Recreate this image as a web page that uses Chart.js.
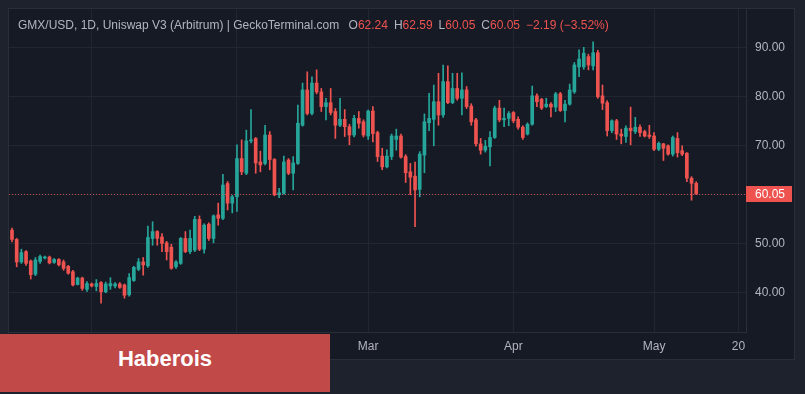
<!DOCTYPE html>
<html>
<head>
<meta charset="utf-8">
<script src="https://cdn.jsdelivr.net/npm/chart.js@4.4.0/dist/chart.umd.min.js"></script>
<style>
  html, body { margin: 0; padding: 0; background: #1e222d; }
  #wrap { position: relative; width: 805px; height: 394px; }
  #title { position: absolute; left: 18px; top: 18px; font: 12px "Liberation Sans", Arial, sans-serif; color: #b2b5be; white-space: pre; }
  #title .g { margin-left: 6px; }
  #title .v { color: #ef5350; }
  #badge { position: absolute; left: 0; top: 334px; width: 330px; height: 58px; box-sizing: border-box; padding-bottom: 9px;
           background: #c14a49; color: #fff; font: bold 22px "Liberation Sans", Arial, sans-serif;
           display: flex; align-items: center; justify-content: center; }
</style>
</head>
<body>
<div id="wrap">
  <canvas id="grafico" width="805" height="394"></canvas>
  <div id="title"></div>
  <div id="badge">Haberois</div>
</div>
<script>
// velas diarias GMX/USD, desde el 15 de diciembre (indice 0)
const opens = [52.7, 50.8, 46.2, 48.3, 46.4, 43.7, 46.3, 47.0, 47.2, 46.1, 46.7, 46.2, 45.3, 44.2, 41.6, 42.9, 40.6, 41.7, 41.2, 42.0,
  40.1, 41.3, 41.3, 41.7, 41.5, 39.5, 42.4, 44.7, 46.2, 45.4, 51.0, 52.4, 51.3, 50.1, 49.2, 45.2, 45.9, 51.0, 48.3, 48.6,
  54.9, 48.8, 53.9, 51.0, 55.8, 55.1, 62.2, 58.2, 59.5, 67.3, 64.3, 70.9, 71.4, 66.6, 66.3, 72.1, 67.1, 59.9, 60.2, 67.0,
  64.3, 66.3, 74.1, 81.3, 76.5, 82.7, 80.9, 77.9, 78.7, 76.9, 74.1, 75.3, 73.8, 72.1, 75.5, 74.8, 71.9, 77.0, 72.6, 67.8,
  65.6, 67.7, 71.2, 71.9, 67.7, 64.6, 63.7, 61.0, 68.0, 74.6, 75.3, 78.9, 76.2, 83.0, 78.7, 81.6, 79.6, 81.3, 78.0, 75.2,
  70.3, 69.0, 69.7, 71.6, 77.6, 75.2, 75.5, 76.7, 75.3, 73.7, 72.3, 74.3, 80.1, 79.4, 77.9, 78.4, 77.8, 80.5, 77.1, 78.4,
  80.9, 86.0, 86.0, 88.1, 86.2, 88.9, 80.1, 78.7, 73.0, 75.0, 72.3, 71.8, 73.5, 72.8, 73.7, 72.8, 72.1, 71.9, 69.2, 70.3,
  69.9, 68.2, 71.4, 68.9, 68.4, 63.3, 62.24];
const highs = [53.1, 51.0, 48.8, 48.5, 46.6, 47.1, 47.6, 47.4, 47.4, 46.9, 46.9, 46.6, 45.5, 44.5, 43.1, 43.1, 42.2, 41.9, 42.6, 42.2,
  42.1, 43.0, 42.0, 42.0, 41.7, 43.8, 45.3, 46.9, 47.1, 53.5, 54.4, 52.6, 52.0, 50.4, 49.8, 46.5, 51.2, 52.4, 52.7, 55.5,
  55.6, 54.0, 54.2, 55.8, 58.2, 64.1, 62.6, 59.8, 70.1, 71.1, 73.1, 77.3, 71.6, 68.8, 74.1, 72.8, 67.3, 61.2, 67.8, 67.3,
  67.7, 78.2, 82.7, 85.0, 84.0, 85.4, 81.6, 79.6, 81.6, 77.5, 79.6, 77.3, 74.3, 76.1, 76.9, 75.2, 77.2, 77.9, 72.9, 69.4,
  69.1, 72.3, 73.3, 72.3, 68.1, 66.3, 66.6, 68.7, 76.4, 80.6, 82.3, 84.7, 86.4, 86.2, 84.7, 84.7, 84.8, 82.0, 78.5, 75.5,
  71.4, 71.0, 72.8, 78.0, 79.2, 77.6, 76.9, 76.9, 75.8, 74.0, 74.6, 82.1, 80.5, 79.6, 79.6, 78.7, 80.8, 80.8, 79.2, 82.5,
  86.9, 89.5, 90.0, 88.6, 91.1, 89.4, 82.3, 79.1, 75.2, 75.3, 73.3, 74.0, 77.8, 75.7, 74.2, 73.1, 74.1, 72.6, 70.7, 70.4,
  70.1, 71.9, 72.6, 69.9, 68.5, 63.6, 62.59];
const lows = [50.3, 45.2, 45.9, 45.5, 42.7, 43.4, 45.9, 46.8, 45.8, 45.9, 45.4, 44.5, 43.7, 41.3, 41.5, 40.4, 40.2, 41.1, 40.3, 37.8,
  39.9, 40.6, 40.9, 40.8, 38.8, 39.2, 42.2, 44.4, 43.5, 45.1, 49.6, 49.6, 48.3, 46.6, 44.7, 44.9, 45.7, 48.1, 47.9, 48.3,
  48.5, 48.0, 50.6, 50.1, 53.7, 54.8, 56.8, 56.2, 56.5, 64.0, 64.0, 70.5, 64.3, 64.6, 66.0, 65.0, 59.7, 59.3, 60.0, 64.0,
  60.9, 66.1, 73.9, 76.2, 76.2, 80.5, 76.9, 75.2, 76.2, 71.4, 73.8, 71.8, 70.1, 71.7, 73.5, 71.7, 71.2, 70.7, 66.7, 65.0,
  65.4, 67.1, 69.0, 67.4, 62.4, 59.9, 53.4, 59.5, 64.4, 73.0, 69.9, 74.1, 75.7, 78.5, 78.5, 79.2, 76.2, 77.5, 74.1, 69.8,
  68.2, 68.6, 65.8, 71.4, 74.8, 73.8, 74.0, 74.6, 73.3, 71.2, 72.1, 74.1, 77.9, 77.3, 77.7, 75.8, 76.9, 76.9, 74.8, 78.2,
  80.6, 84.0, 85.5, 85.4, 85.4, 79.6, 77.3, 71.9, 72.6, 71.2, 70.3, 70.6, 70.1, 72.4, 71.8, 71.7, 71.4, 68.9, 68.9, 66.9,
  68.0, 67.8, 67.6, 67.9, 62.6, 58.8, 60.05];
const closes = [50.8, 46.2, 48.1, 45.9, 43.6, 46.6, 47.3, 47.2, 46.0, 46.7, 45.6, 44.9, 43.9, 41.5, 42.9, 40.8, 41.8, 41.3, 41.8, 40.1,
  41.7, 41.8, 41.7, 41.0, 39.4, 43.0, 45.1, 46.2, 45.6, 51.2, 52.4, 51.0, 50.0, 48.3, 44.9, 46.2, 51.0, 48.3, 51.0, 54.9,
  48.8, 53.7, 51.0, 55.6, 55.1, 61.9, 58.2, 59.5, 67.3, 64.6, 70.9, 71.1, 66.4, 66.0, 72.1, 67.1, 59.9, 60.3, 66.6, 64.3,
  66.4, 74.5, 81.3, 76.5, 82.7, 80.9, 77.9, 78.7, 76.7, 74.1, 75.3, 73.8, 72.1, 75.5, 74.5, 72.1, 77.0, 72.4, 67.7, 65.6,
  67.8, 71.9, 71.9, 67.6, 64.4, 63.5, 60.9, 68.2, 74.8, 75.5, 78.9, 76.2, 83.0, 78.7, 81.6, 79.6, 81.3, 77.9, 74.8, 70.3,
  69.0, 69.8, 71.6, 77.6, 75.2, 75.5, 76.5, 75.0, 73.7, 71.6, 74.3, 80.1, 78.9, 77.6, 78.4, 77.8, 80.5, 77.1, 78.4, 81.3,
  86.4, 87.6, 88.8, 86.4, 88.9, 79.9, 78.6, 73.0, 75.0, 72.3, 71.9, 73.5, 73.0, 73.7, 72.6, 71.9, 71.8, 69.2, 70.4, 69.4,
  68.2, 71.6, 68.5, 68.2, 63.3, 62.24, 60.05];

// marcas del eje de tiempo (indice de dia) y del eje de precio
const tickIndex = [17, 48, 76, 107, 137, 155];
const tickLabels = ['2023', 'Feb', 'Mar', 'Apr', 'May', '20'];
const yTicks = [40, 50, 60, 70, 80, 90];

const UP = '#26a69a';
const DOWN = '#ef5350';
const colores = closes.map((c, i) => c >= opens[i] ? UP : DOWN);
const last = closes.length - 1;

// cabecera con los valores de la ultima vela
const cambio = closes[last] - closes[last - 1];
const pct = cambio / closes[last - 1] * 100;
const fmt = n => (n < 0 ? '\u2212' : '') + Math.abs(n).toFixed(2);
document.getElementById('title').innerHTML =
  'GMX/USD, 1D, Uniswap V3 (Arbitrum) | GeckoTerminal.com ' +
  '<span class="g">O<span class="v">' + opens[last].toFixed(2) + '</span></span>' +
  '<span class="g">H<span class="v">' + highs[last].toFixed(2) + '</span></span>' +
  '<span class="g">L<span class="v">' + lows[last].toFixed(2) + '</span></span>' +
  '<span class="g">C<span class="v">' + closes[last].toFixed(2) + '</span></span>' +
  '<span class="g v">' + fmt(cambio) + ' (' + fmt(pct) + '%)</span>';

const fondo = {
  id: 'fondo',
  beforeDraw(chart) {
    const c = chart.ctx;
    c.save();
    c.fillStyle = '#1e222d';
    c.fillRect(0, 0, 805, 394);
    c.fillStyle = '#161a25';
    c.fillRect(9, 9, 785, 350);
    c.strokeStyle = '#2a2e39';
    c.lineWidth = 1;
    c.strokeRect(8.5, 8.5, 786, 351);
    c.restore();
  }
};

const lineaPrecio = {
  id: 'lineaPrecio',
  afterDatasetsDraw(chart) {
    const { ctx, chartArea, scales } = chart;
    const y = Math.round(scales.y.getPixelForValue(closes[last])) + 0.5;
    ctx.save();
    ctx.strokeStyle = DOWN;
    ctx.globalAlpha = 0.8;
    ctx.lineWidth = 1;
    ctx.setLineDash([1, 2]);
    ctx.beginPath();
    ctx.moveTo(chartArea.left, y);
    ctx.lineTo(chartArea.right, y);
    ctx.stroke();
    ctx.restore();
  },
  afterDraw(chart) {
    const { ctx, scales } = chart;
    const y = Math.round(scales.y.getPixelForValue(closes[last]));
    ctx.save();
    ctx.fillStyle = colores[last];
    ctx.fillRect(scales.y.left, y - 8, 46, 16);
    ctx.fillStyle = '#ffffff';
    ctx.font = '12px "Liberation Sans", Arial, sans-serif';
    ctx.textBaseline = 'middle';
    ctx.fillText(closes[last].toFixed(2), scales.y.left + 9, y + 1);
    ctx.restore();
  }
};

const sinRelleno = s => { s.paddingTop = 0; s.paddingBottom = 0; s.paddingLeft = 0; s.paddingRight = 0; };

const ctx = document.getElementById('grafico').getContext('2d');
new Chart(ctx, {
  type: 'bar',
  data: {
    datasets: [{
      label: 'cuerpo',
      data: opens.map((o, i) => ({ x: i, y: [o, closes[i]] })),
      backgroundColor: colores,
      barThickness: 3,
      minBarLength: 1,
      grouped: false,
      borderWidth: 0
    }, {
      label: 'mecha',
      data: lows.map((l, i) => ({ x: i, y: [l, highs[i]] })),
      backgroundColor: colores,
      barThickness: 1,
      grouped: false,
      borderWidth: 0
    }]
  },
  options: {
    responsive: false,
    animation: false,
    devicePixelRatio: 1,
    events: [],
    layout: { padding: { left: 9, top: 9, right: 11, bottom: 35 } },
    plugins: { legend: { display: false }, tooltip: { enabled: false } },
    scales: {
      x: {
        type: 'linear',
        position: 'bottom',
        offset: false,
        min: -0.64,
        max: 156.62,
        afterBuildTicks: s => { s.ticks = tickIndex.map(v => ({ value: v })); },
        afterFit: s => { s.height = 27; sinRelleno(s); },
        grid: { color: '#222632', drawTicks: false, offset: false },
        border: { color: '#2a2e39' },
        ticks: {
          color: '#b2b5be',
          font: { family: 'Liberation Sans', size: 12 },
          padding: 7,
          maxRotation: 0,
          autoSkip: false,
          callback: v => tickLabels[tickIndex.indexOf(v)]
        }
      },
      y: {
        position: 'right',
        min: 31.9,
        max: 97.82,
        afterBuildTicks: s => { s.ticks = yTicks.map(v => ({ value: v })); },
        afterFit: s => { s.width = 48; sinRelleno(s); },
        grid: { color: '#222632', drawTicks: false },
        border: { color: '#2a2e39' },
        ticks: {
          color: '#b2b5be',
          font: { family: 'Liberation Sans', size: 12 },
          padding: 9,
          callback: v => v.toFixed(2)
        }
      }
    }
  },
  plugins: [fondo, lineaPrecio]
});
</script>
</body>
</html>
